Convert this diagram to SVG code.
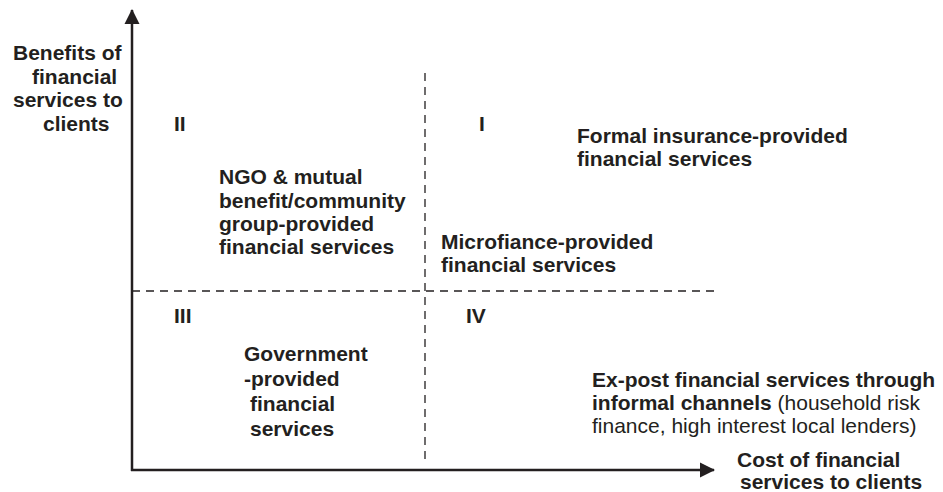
<svg xmlns="http://www.w3.org/2000/svg" width="943" height="492" viewBox="0 0 943 492">
<style>
text{font-family:"Liberation Sans",Arial,sans-serif;font-size:21px;fill:#231f20}
.b{font-weight:bold}
.axis{stroke:#231f20;stroke-width:2.5;fill:none}
.dash{stroke:#231f20;stroke-width:1.3;stroke-dasharray:8 6;fill:none}
</style>
<defs>
<marker id="ah" markerUnits="userSpaceOnUse" markerWidth="16" markerHeight="16" refX="14" refY="8" orient="auto">
<path d="M0,0.5 L15,8 L0,15.5 Z" fill="#231f20"/>
</marker>
</defs>
<rect width="943" height="492" fill="#fff"/>
<g id="connectors">
<line class="axis" x1="132" y1="471" x2="132" y2="10" marker-end="url(#ah)"/>
<line class="axis" x1="131" y1="470" x2="714" y2="470" marker-end="url(#ah)"/>
<line class="dash" x1="425" y1="73" x2="425" y2="462"/>
<line class="dash" x1="132" y1="291" x2="718" y2="291"/>
</g>
<g id="y-label" class="b">
<text x="13" y="60" class="b">Benefits of</text>
<text x="32" y="84" class="b">financial</text>
<text x="13" y="107" class="b">services to</text>
<text x="43" y="131" class="b">clients</text>
</g>
<g id="x-label">
<text x="737" y="467" class="b">Cost of financial</text>
<text x="740" y="489" class="b">services to clients</text>
</g>
<g id="q1">
<text x="479" y="131" class="b">I</text>
</g>
<g id="q2">
<text x="174" y="131" class="b">II</text>
</g>
<g id="q3">
<text x="174" y="323" class="b">III</text>
</g>
<g id="q4">
<text x="466" y="323" class="b">IV</text>
</g>
<g id="formal">
<text x="577" y="143" class="b">Formal insurance-provided</text>
<text x="577" y="166" class="b">financial services</text>
</g>
<g id="ngo">
<text x="219" y="184" class="b">NGO &amp; mutual</text>
<text x="219" y="207.5" class="b">benefit/community</text>
<text x="219" y="231" class="b">group-provided</text>
<text x="219" y="254" class="b">financial services</text>
</g>
<g id="micro">
<text x="441" y="249" class="b">Microfiance-provided</text>
<text x="441" y="272" class="b">financial services</text>
</g>
<g id="gov">
<text x="244" y="361" class="b">Government</text>
<text x="244" y="386" class="b">-provided</text>
<text x="250" y="411" class="b">financial</text>
<text x="250" y="436" class="b">services</text>
</g>
<g id="expost">
<text x="592" y="387" class="b">Ex-post financial services through</text>
<text x="592" y="410"><tspan class="b">informal channels</tspan> (household risk</text>
<text x="592" y="433">finance, high interest local lenders)</text>
</g>
</svg>
